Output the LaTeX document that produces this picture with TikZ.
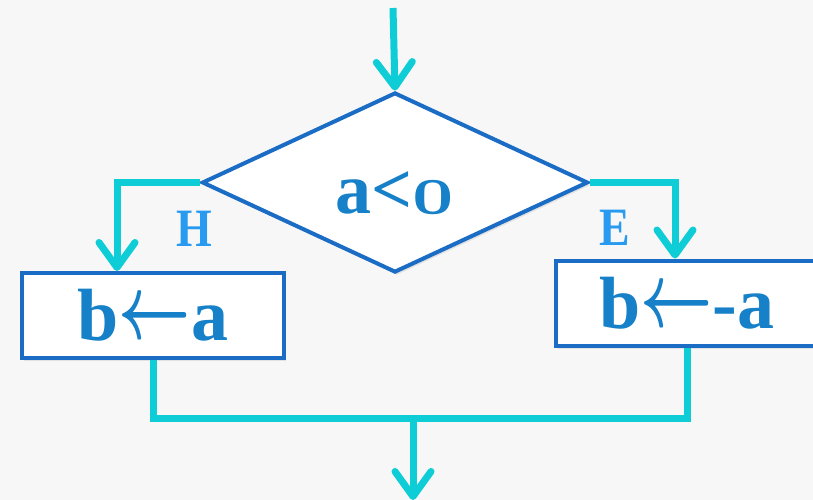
\RequirePackage{fix-cm}
\documentclass[tikz,border=0pt]{standalone}
\usepackage{fontspec}
\setmainfont{Liberation Serif}
\usetikzlibrary{arrows.meta, positioning, shapes.geometric, shadows}

\definecolor{flowcyan}{RGB}{14,205,214}
\definecolor{edgeblue}{RGB}{26,108,196}
\definecolor{textblue}{RGB}{22,128,200}
\definecolor{lblblue}{RGB}{40,155,240}
\definecolor{bggray}{RGB}{247,247,247}

\newcommand{\oldzero}{{\usefont{OML}{cmm}{b}{it}0}}
\newcommand{\assignarrow}{\raisebox{0.03em}{\scalebox{0.85}[1.25]{\boldmath$\leftarrow$}}}

\begin{document}
\begin{tikzpicture}[
    x=1pt, y=-1pt,
    decision/.style={diamond, draw=edgeblue, line width=4pt, fill=white,
        aspect=2.14, minimum width=386pt, minimum height=180pt, inner sep=0pt,
        drop shadow={opacity=0.18, shadow xshift=2pt, shadow yshift=-3pt}},
    procbox/.style={draw=edgeblue, line width=4pt, fill=white,
        minimum width=262pt, minimum height=85pt, inner sep=0pt,
        drop shadow={opacity=0.18, shadow xshift=2pt, shadow yshift=-3pt}},
    bigtxt/.style={font=\bfseries\fontsize{74}{80}\selectfont, text=textblue},
    lbl/.style={font=\bfseries\fontsize{54}{56}\selectfont, text=lblblue, inner sep=0pt},
    flow/.style={draw=flowcyan, line width=7pt, line join=miter},
    flowarr/.style={flow, -{Straight Barb[length=25pt, width=36pt, round]}}
]
    \useasboundingbox (0,0) rectangle (813,500);
    \clip (0,0) rectangle (813,500);
    \fill[bggray] (0,0) rectangle (813,500);

    % shapes
    \node[decision, bigtxt, font=\bfseries\fontsize{72}{76}\selectfont] (dec) at (395,182.5)
        {\raisebox{-10pt}[\height][0pt]{a<\oldzero}};
    \node[procbox, bigtxt] (lbox) at (153,315.5) {b\assignarrow a};
    \node[procbox, bigtxt] (rbox) at (687,303) {b\assignarrow-a};
    \node[lbl, xscale=0.85] (yes) at (194,229) {H};
    \node[lbl, xscale=0.85] (no) at (615,228) {E};

    \coordinate (start) at (393,8);
    \coordinate (merge) at (413,418);
    \coordinate (finish) at (413,500);

    % connectors
    \draw[flowarr] (start) -- (dec.north);
    \draw[flowarr] (dec.west) -| ([xshift=-36pt]lbox.north);
    \draw[flowarr] (dec.east) -| ([xshift=-12pt]rbox.north);
    \draw[flow] (lbox.south) |- (merge) -| (rbox.south);
    \draw[flowarr] (merge) -- (finish);
\end{tikzpicture}
\end{document}
